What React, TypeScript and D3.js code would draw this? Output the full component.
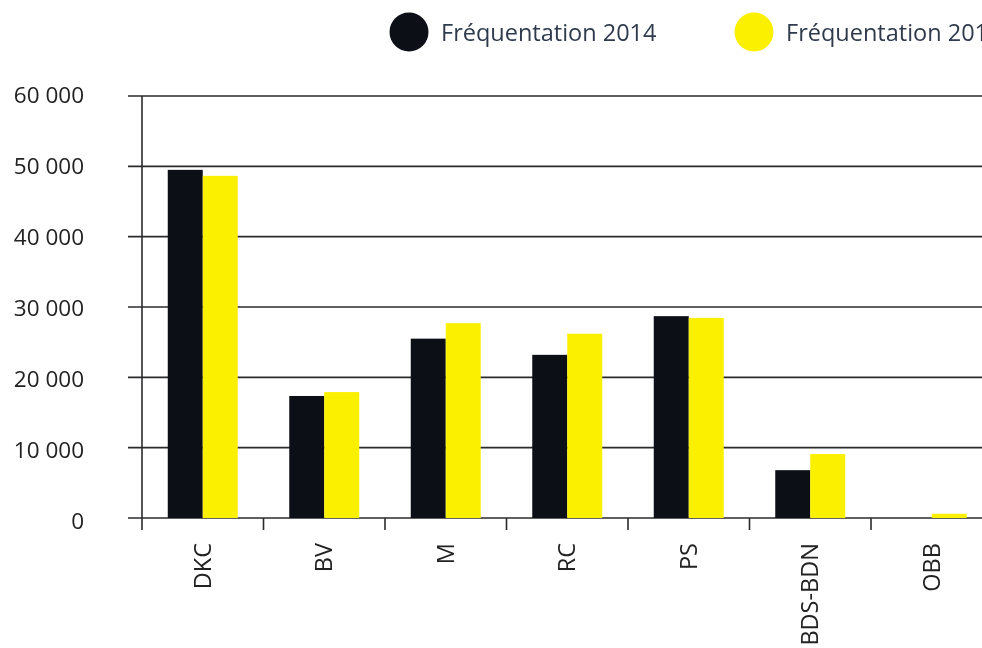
import React, { useEffect, useRef } from "react";
import * as d3 from "d3";

const categories = ["DKC", "BV", "M", "RC", "PS", "BDS-BDN", "OBB"];
const seriesNames = ["Fréquentation 2014", "Fréquentation 2015"];
const values2014 = [49500, 17350, 25500, 23200, 28700, 6800, 0];
const values2015 = [48650, 17900, 27700, 26200, 28450, 9100, 600];
const yTicks = [0, 10000, 20000, 30000, 40000, 50000, 60000];
const colors = ["#0c0f16", "#fbf000"];

const App = () => {
  const svgRef = useRef<SVGSVGElement>(null);

  useEffect(() => {
    const svg = d3.select(svgRef.current);
    svg.selectAll("*").remove();

    const width = 982;
    const height = 648;
    const left = 142;
    const step = 121.5;
    const font = "'Open Sans', 'Noto Sans', sans-serif";

    const x = d3
      .scaleBand()
      .domain(categories)
      .range([left, left + step * categories.length])
      .paddingInner(0);
    const xSub = d3
      .scaleBand()
      .domain(["2014", "2015"])
      .range([0, x.bandwidth()])
      .paddingOuter(0.736)
      .paddingInner(0);
    const y = d3.scaleLinear().domain([0, 60000]).range([518, 96]);

    svg.attr("width", width).attr("height", height);

    // gridlines
    svg
      .append("g")
      .selectAll("line")
      .data(yTicks)
      .enter()
      .append("line")
      .attr("x1", 128)
      .attr("x2", width)
      .attr("y1", (d) => y(d))
      .attr("y2", (d) => y(d))
      .attr("stroke", "#2b2b2e")
      .attr("stroke-width", 1.6);

    // y labels
    svg
      .append("g")
      .selectAll("text")
      .data(yTicks)
      .enter()
      .append("text")
      .attr("x", 84)
      .attr("y", (d) => y(d) - (d / 60000) * 4 + 3)
      .attr("dy", "0.35em")
      .attr("text-anchor", "end")
      .style("font-family", font)
      .style("font-size", "22.5px")
      .attr("fill", "#222")
      .text((d) => d3.format(",")(d).replace(/,/g, " "));

    // bars
    const data = categories.map((c, i) => ({
      cat: c,
      vals: [
        { key: "2014", v: values2014[i], color: colors[0] },
        { key: "2015", v: values2015[i], color: colors[1] },
      ],
    }));

    svg
      .append("g")
      .selectAll("g")
      .data(data)
      .enter()
      .append("g")
      .attr("transform", (d) => `translate(${x(d.cat)},0)`)
      .selectAll("rect")
      .data((d) => d.vals)
      .enter()
      .append("rect")
      .attr("x", (d) => xSub(d.key)!)
      .attr("width", xSub.bandwidth())
      .attr("y", (d) => y(d.v))
      .attr("height", (d) => y(0) - y(d.v))
      .attr("fill", (d) => d.color);

    // axis lines
    svg
      .append("line")
      .attr("x1", left)
      .attr("x2", left)
      .attr("y1", 96)
      .attr("y2", 530)
      .attr("stroke", "#2b2b2e")
      .attr("stroke-width", 1.6);

    svg
      .append("g")
      .selectAll("line")
      .data(categories.slice(1))
      .enter()
      .append("line")
      .attr("x1", (d) => x(d)!)
      .attr("x2", (d) => x(d)!)
      .attr("y1", 518)
      .attr("y2", 530)
      .attr("stroke", "#2b2b2e")
      .attr("stroke-width", 1.6);

    // x labels
    svg
      .append("g")
      .selectAll("text")
      .data(categories)
      .enter()
      .append("text")
      .attr(
        "transform",
        (d) => `translate(${x(d)! + x.bandwidth() / 2 + 8},543) rotate(-90)`
      )
      .attr("text-anchor", "end")
      .style("font-family", font)
      .style("font-size", "23.5px")
      .attr("fill", "#222")
      .text((d) => d);

    // legend
    const legend = svg
      .append("g")
      .selectAll("g")
      .data(seriesNames)
      .enter()
      .append("g")
      .attr("transform", (d, i) => `translate(${409 + i * 345},32)`);
    legend
      .append("circle")
      .attr("r", 19.5)
      .attr("fill", (d, i) => colors[i]);
    legend
      .append("text")
      .attr("x", 32)
      .attr("y", 8.5)
      .style("font-family", font)
      .style("font-size", "23.5px")
      .attr("fill", "#2f3b4d")
      .text((d) => d);
  }, []);

  return (
    <div
      style={{
        position: "fixed",
        top: 0,
        left: 0,
        width: 982,
        height: 648,
        overflow: "hidden",
      }}
    >
      <svg ref={svgRef} style={{ display: "block" }}></svg>
    </div>
  );
};

export default App;
